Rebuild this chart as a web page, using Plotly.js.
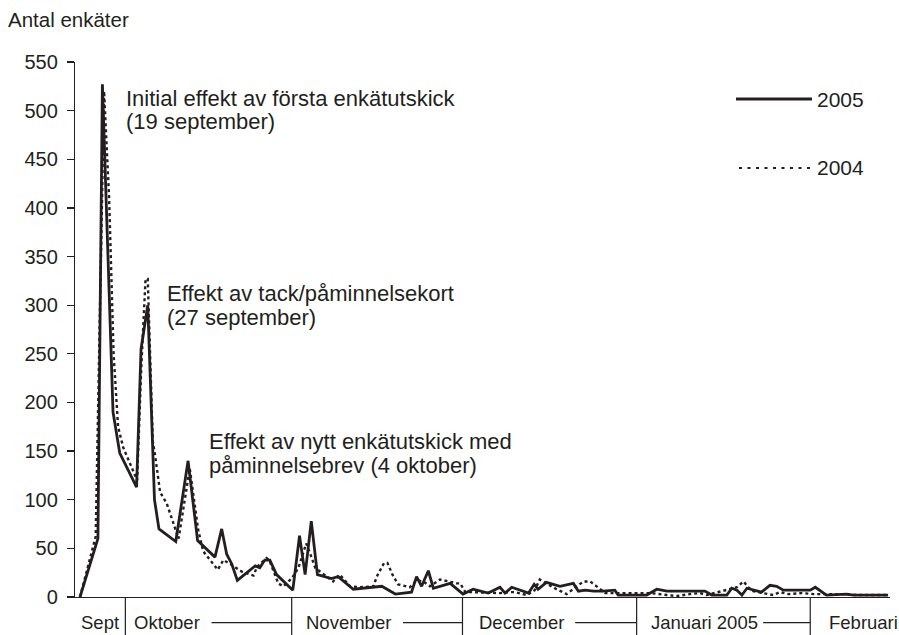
<!DOCTYPE html>
<html>
<head>
<meta charset="utf-8">
<script src="https://cdn.plot.ly/plotly-3.0.1.min.js"></script>
<style>
html,body{margin:0;padding:0;background:#ffffff;}
#chart{width:899px;height:635px;}
</style>
</head>
<body>
<div id="chart"></div>
<script>
// ---- Data (x = day index from start of the period) ----
const days2005 = [0, 3.2, 4.0, 5.9, 7.1, 10.1, 10.9, 12.1, 13.3, 14.1, 17.1, 19.3, 21.0, 24.1, 25.3, 26.2, 27.1, 28.1, 31.3, 32.1, 33.0, 33.9, 35.1, 38.0, 39.2, 40.2, 41.3, 42.4, 44.9, 46.1, 48.8, 52.4, 53.9, 56.3, 59.2, 60.1, 61.0, 62.2, 63.1, 66.1, 68.4, 70.2, 72.9, 75.0, 75.9, 77.1, 80.1, 81.1, 81.8, 83.3, 85.7, 88.1, 89.0, 90.2, 91.7, 93.4, 95.5, 96.1, 101.2, 103.0, 104.8, 111.6, 112.8, 115.5, 116.4, 117.3, 118.2, 119.1, 121.7, 123.2, 124.4, 125.6, 130.4, 131.3, 132.1, 133.3, 136.9, 138.1, 144.3];
const counts2005 = [0, 60, 527, 190, 148, 113, 255, 300, 100, 70, 57, 140, 58, 41, 70, 44, 34, 17, 32, 30, 38, 38, 23, 7, 63, 23, 78, 23, 19, 21, 8, 10, 11, 3, 5, 21, 11, 27, 9, 14, 3, 8, 4, 10, 4, 10, 4, 13, 8, 15, 11, 14, 6, 7, 6, 6, 7, 2, 2, 8, 6, 6, 2, 2, 9, 7, 2, 9, 5, 12, 11, 7, 7, 10, 7, 2, 3, 2, 2];

const days2004 = [0, 1.2, 1.8, 2.8, 4.3, 5.2, 6.0, 6.8, 7.7, 9.3, 10.2, 10.9, 11.7, 12.1, 12.5, 13.0, 13.4, 14.3, 15.5, 16.7, 17.6, 19.6, 20.8, 21.1, 22.0, 23.5, 24.6, 25.6, 27.1, 28.9, 31.0, 31.6, 33.3, 33.8, 35.4, 36.3, 37.8, 39.0, 40.4, 41.2, 42.0, 45.2, 46.4, 48.2, 50.0, 52.4, 53.0, 54.3, 54.9, 55.8, 56.8, 58.9, 60.1, 61.3, 62.5, 64.3, 67.3, 67.9, 68.8, 70.2, 75.0, 76.8, 77.7, 79.8, 81.2, 82.1, 83.3, 85.1, 86.9, 89.9, 91.1, 93.8, 98.2, 102.1, 104.8, 106.6, 108.9, 110.7, 111.9, 117.3, 118.5, 119.3, 120.2, 123.8, 125.0, 126.5, 128.9, 131.0, 136.3, 138.7, 144.0];
const counts2004 = [0, 26, 40, 62, 520, 410, 250, 175, 154, 132, 120, 230, 327, 327, 250, 160, 146, 108, 96, 74, 60, 132, 82, 69, 47, 36, 28, 38, 33, 26, 22, 31, 40, 38, 14, 11, 19, 30, 55, 43, 30, 16, 23, 11, 10, 11, 21, 35, 35, 23, 13, 10, 17, 16, 11, 18, 14, 14, 5, 5, 4, 5, 5, 2, 7, 18, 14, 8, 3, 16, 16, 4, 4, 4, 2, 1, 3, 4, 2, 10, 16, 10, 6, 2, 5, 3, 4, 3, 3, 2, 2];

const seriesNames = ['2005', '2004'];
const monthLabels = ['Sept', 'Oktober', 'November', 'December', 'Januari 2005', 'Februari'];
const monthStarts = [8.1, 37.8, 68.3, 99.4, 130.4]; // Oct 1, Nov 1, Dec 1, Jan 1, Feb 1
const yTicks = [0, 50, 100, 150, 200, 250, 300, 350, 400, 450, 500, 550];

const yTitle = 'Antal enkäter';
const notes = [
  ['Initial effekt av första enkätutskick', '(19 september)'],
  ['Effekt av tack/påminnelsekort', '(27 september)'],
  ['Effekt av nytt enkätutskick med', 'påminnelsebrev (4 oktober)']
];

// ---- Layout / style ----
const INK = '#231f20';
const FONT = 'Liberation Sans, Arial, Helvetica, sans-serif';
const L = 75, T = 62, W = 815, H = 535;
const PX_PER_DAY = 5.6;
const X0_DAY = -5 / PX_PER_DAY; // plot starts 5px left of day 0
const xRange = [X0_DAY, X0_DAY + W / PX_PER_DAY];
const pxX = px => (px - L) / W;          // pixel -> paper x
const pxY = py => (T + H - py) / H;      // pixel -> paper y

const noteStyle = [
  {x: 124, y1: 98, y2: 121},
  {x: 165, y1: 293, y2: 317},
  {x: 207, y1: 441, y2: 465}
];
const monthLabelShift = [6.5, 12.6, 14.4, 12.6, 16.7];   // px right of divider
const monthLineStart = [86.2, 111.3, 112.7, 126.5];      // px right of divider

const traces = [
  {x: days2005, y: counts2005, name: seriesNames[0], type: 'scatter', mode: 'lines',
   line: {color: INK, width: 2.8}, showlegend: false, hoverinfo: 'x+y'},
  {x: days2004, y: counts2004, name: seriesNames[1], type: 'scatter', mode: 'lines',
   line: {color: INK, width: 2.4, dash: '3px,3px'}, showlegend: false, hoverinfo: 'x+y'}
];

const annotations = [];
const shapes = [];

notes.forEach((lines, i) => {
  const s = noteStyle[i];
  [s.y1, s.y2].forEach((py, j) => {
    annotations.push({text: lines[j], xref: 'paper', yref: 'paper', x: pxX(s.x), y: pxY(py),
      xanchor: 'left', yanchor: 'middle', showarrow: false,
      font: {family: FONT, size: 22, color: INK}});
  });
});

// month labels
const labelY = pxY(622);
annotations.push({text: monthLabels[0], xref: 'x', yref: 'paper',
  x: (xRange[0] + monthStarts[0]) / 2, y: labelY, xanchor: 'center', yanchor: 'middle',
  showarrow: false, font: {family: FONT, size: 18.5, color: INK}});
monthStarts.forEach((d, i) => {
  annotations.push({text: monthLabels[i + 1], xref: 'x', yref: 'paper',
    x: d, xshift: monthLabelShift[i], y: labelY, xanchor: 'left', yanchor: 'middle',
    showarrow: false, font: {family: FONT, size: 18.5, color: INK}});
  shapes.push({type: 'line', xref: 'x', yref: 'paper', x0: d, x1: d, y0: 0, y1: pxY(636),
    line: {color: INK, width: 1.2}});
  if (i < monthStarts.length - 1) {
    shapes.push({type: 'line', xref: 'x', yref: 'paper',
      x0: d + monthLineStart[i] / PX_PER_DAY, x1: monthStarts[i + 1],
      y0: pxY(622.7), y1: pxY(622.7), line: {color: INK, width: 1.2}});
  }
});

// legend (drawn manually to match long sample lines)
shapes.push({type: 'line', xref: 'paper', yref: 'paper', x0: pxX(736), x1: pxX(812),
  y0: pxY(99), y1: pxY(99), line: {color: INK, width: 2.8}});
shapes.push({type: 'line', xref: 'paper', yref: 'paper', x0: pxX(739), x1: pxX(813),
  y0: pxY(168), y1: pxY(168), line: {color: INK, width: 2, dash: '3px,5.5px'}});
annotations.push({text: seriesNames[0], xref: 'paper', yref: 'paper', x: pxX(815), y: pxY(100),
  xanchor: 'left', yanchor: 'middle', showarrow: false, font: {family: FONT, size: 21, color: INK}});
annotations.push({text: seriesNames[1], xref: 'paper', yref: 'paper', x: pxX(815), y: pxY(167),
  xanchor: 'left', yanchor: 'middle', showarrow: false, font: {family: FONT, size: 21, color: INK}});

const layout = {
  width: 899, height: 635,
  margin: {l: L, r: 899 - L - W, t: T, b: 635 - T - H, pad: 0},
  paper_bgcolor: '#ffffff', plot_bgcolor: '#ffffff',
  showlegend: false,
  title: {text: yTitle, xref: 'container', yref: 'container', x: 8 / 899, xanchor: 'left',
    y: 1 - 20 / 635, yanchor: 'middle', font: {family: FONT, size: 20.5, color: INK}},
  xaxis: {range: xRange, showline: true, linecolor: INK, linewidth: 1.2, showgrid: false,
    zeroline: false, ticks: '', showticklabels: false, fixedrange: true},
  yaxis: {range: [0, 550], tickvals: yTicks, ticktext: yTicks.map(String), showline: true,
    linecolor: INK, linewidth: 1.2, ticks: 'outside', ticklen: 7, tickwidth: 1.2, tickcolor: INK,
    showgrid: false, zeroline: false, ticklabelstandoff: 5,
    tickfont: {family: FONT, size: 20, color: INK}, fixedrange: true},
  annotations: annotations,
  shapes: shapes
};

Plotly.newPlot('chart', traces, layout, {displayModeBar: false, staticPlot: true});
</script>
</body>
</html>
